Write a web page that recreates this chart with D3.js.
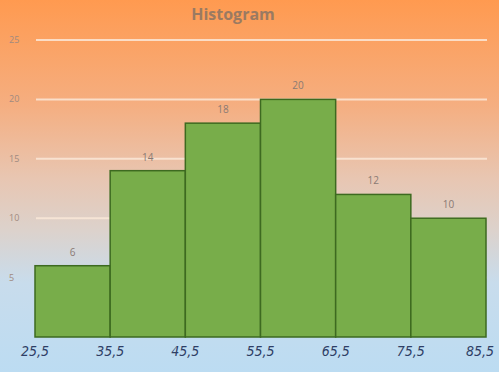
<!DOCTYPE html>
<html>
<head>
<meta charset="utf-8">
<script src="https://cdn.jsdelivr.net/npm/d3@7"></script>
<style>
  html, body { margin: 0; padding: 0; overflow: hidden; }
  svg { display: block; }
</style>
</head>
<body>
<div id="chart"></div>
<script>
// histogram class boundaries and frequencies
var edges = [25.5, 35.5, 45.5, 55.5, 65.5, 75.5, 85.5];
var edgeLabels = ["25,5", "35,5", "45,5", "55,5", "65,5", "75,5", "85,5"];
var counts = [6, 14, 18, 20, 12, 10];
var yTicks = [5, 10, 15, 20, 25];

var WIDTH = 499, HEIGHT = 372;

var svg = d3.select("#chart").append("svg")
    .attr("width", WIDTH).attr("height", HEIGHT);

// background gradient, orange to light blue
var grad = svg.append("defs").append("linearGradient")
    .attr("id", "bg").attr("x1", 0).attr("y1", 0).attr("x2", 0).attr("y2", 1);
grad.append("stop").attr("offset", "0%").attr("stop-color", "#ff9a50");
grad.append("stop").attr("offset", "28%").attr("stop-color", "#f5ae80");
grad.append("stop").attr("offset", "48%").attr("stop-color", "#e8c6b2");
grad.append("stop").attr("offset", "62%").attr("stop-color", "#dcd2cc");
grad.append("stop").attr("offset", "76%").attr("stop-color", "#c8dcec");
grad.append("stop").attr("offset", "100%").attr("stop-color", "#bcdcf2");
svg.append("rect").attr("width", WIDTH).attr("height", HEIGHT).attr("fill", "url(#bg)");

var x = d3.scaleLinear().domain([25.5, 85.5]).range([35, 486]);
var y = d3.scaleLinear().domain([0, 25]).range([337, 40]);

// gridlines + y labels
var grid = svg.append("g");
grid.selectAll("line").data(yTicks).enter().append("line")
    .attr("x1", 36).attr("x2", 487)
    .attr("y1", function(d) { return y(d); })
    .attr("y2", function(d) { return y(d); })
    .attr("stroke", "#fbe8d8").attr("stroke-width", 2).attr("opacity", 0.85);
grid.selectAll("text").data(yTicks).enter().append("text")
    .attr("x", 9).attr("y", function(d) { return y(d) + 3; })
    .attr("font-family", "Open Sans, sans-serif").attr("font-size", 9)
    .attr("fill", "#a08a80")
    .text(function(d) { return d; });

// bars
var bins = counts.map(function(c, i) { return { x0: edges[i], x1: edges[i + 1], n: c }; });
var bars = svg.append("g");
bars.selectAll("rect").data(bins).enter().append("rect")
    .attr("x", function(d) { return x(d.x0); })
    .attr("y", function(d) { return y(d.n); })
    .attr("width", function(d) { return x(d.x1) - x(d.x0); })
    .attr("height", function(d) { return y(0) - y(d.n); })
    .attr("fill", "#78ad4a").attr("stroke", "#3d6a20").attr("stroke-width", 1.5);

// value labels
bars.selectAll("text").data(bins).enter().append("text")
    .attr("x", function(d) { return (x(d.x0) + x(d.x1)) / 2; })
    .attr("y", function(d) { return y(d.n) - 10; })
    .attr("text-anchor", "middle")
    .attr("font-family", "Open Sans, sans-serif").attr("font-size", 10)
    .attr("fill", "#8a7a74")
    .text(function(d) { return d.n; });

// hand-written style x labels
svg.append("g").selectAll("text").data(edges).enter().append("text")
    .attr("x", function(d) { return Math.min(x(d), WIDTH - 19); })
    .attr("y", 356)
    .attr("text-anchor", "middle")
    .attr("font-family", "DejaVu Sans Condensed, DejaVu Sans, sans-serif").attr("font-size", 14)
    .attr("font-style", "italic")
    .attr("fill", "#2f3f66")
    .text(function(d, i) { return edgeLabels[i]; });

// title
svg.append("text")
    .attr("x", 233).attr("y", 20)
    .attr("text-anchor", "middle")
    .attr("font-family", "Open Sans, sans-serif").attr("font-size", 16)
    .attr("font-weight", "bold")
    .attr("fill", "#9a7a62")
    .text("Histogram");
</script>
</body>
</html>
